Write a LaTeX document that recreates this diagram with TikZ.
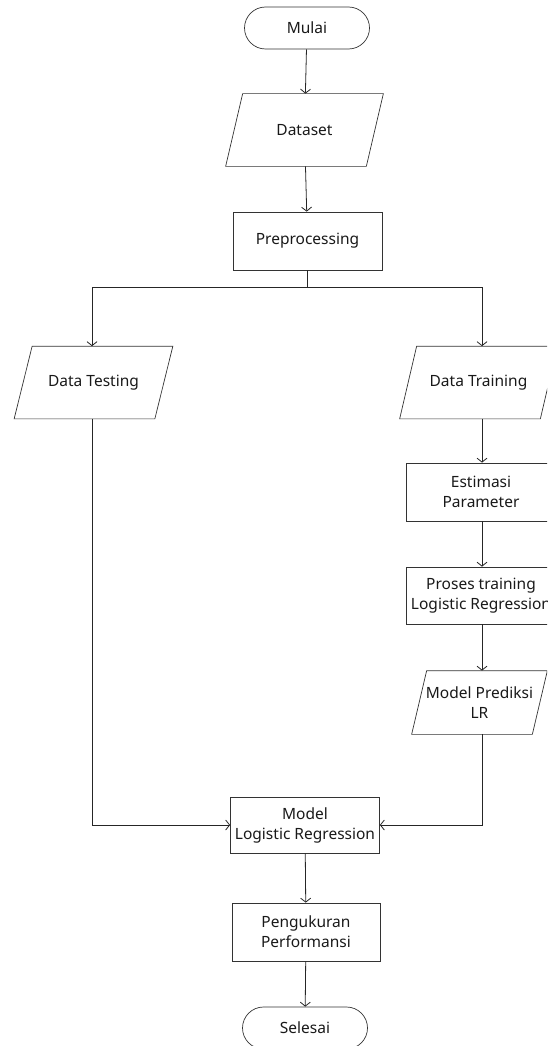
\documentclass[tikz,border=0pt]{standalone}
\usepackage{xcolor}
\usepackage{fontspec}
\setmainfont{Noto Sans}
\usepackage{tikz}
\usetikzlibrary{arrows.meta}

\begin{document}
\begin{tikzpicture}[x=1pt,y=-1pt,
    font=\fontsize{15.5}{20}\selectfont, text=black!90,
    every node/.style={draw=black!80, line width=0.7pt, align=center, inner sep=1pt},
    terminal/.style={rectangle, rounded corners=21pt, minimum width=125pt, minimum height=42pt},
    process/.style={rectangle, minimum width=149pt, minimum height=58pt},
    io/.style={rectangle, draw=none, minimum width=140pt, minimum height=72pt},
    flow/.style={draw=black!85, line width=0.8pt, -{Straight Barb[length=4pt,width=10pt]}}]
    \clip (0,0) rectangle (547,1046);
    \node[terminal] (mulai) at (307,28) {Mulai};
    \node[io] (dataset) at (304.5,130) {Dataset};
    \node[process] (prep) at (307.5,241) {Preprocessing};
    \node[io] (testing) at (93.5,382.5) {Data Testing};
    \node[io] (training) at (478.5,382.5) {Data Training};
    \node[process, minimum width=150pt] (estimasi) at (481,492) {Estimasi\\Parameter};
    \node[process, minimum width=150pt, minimum height=57pt] (proses) at (481,595.5) {Proses training\\Logistic Regression};
    \node[io, minimum width=120pt, minimum height=63pt] (prediksi) at (479.5,702.5) {Model Prediksi\\LR};
    \node[process, minimum height=56pt] (model) at (305,825) {Model\\Logistic Regression};
    \node[process, minimum width=148pt] (ukur) at (306,932) {Pengukuran\\Performansi};
    \node[terminal] (selesai) at (305,1028) {Selesai};
    \coordinate (split) at (307.5,287);

    % parallelogram outlines of the io nodes
    \foreach \n/\s in {dataset/8.5, testing/9, training/8.5, prediksi/7.5}
      \draw[draw=black!80, line width=0.7pt] ([xshift=\s pt]\n.north west) -- ([xshift=\s pt]\n.north east)
        -- ([xshift=-\s pt]\n.south east) -- ([xshift=-\s pt]\n.south west) -- cycle;

    \draw[flow] (mulai) -- (dataset);
    \draw[flow] (dataset) -- (prep);
    \draw[draw=black!85, line width=0.8pt] (prep) -- (split);
    \draw[flow] (split) -| (testing.north -| 92,0);
    \draw[flow] (split) -| (training.north -| 482,0);
    \draw[flow] (training.south -| 482,0) -- (estimasi.north -| 482,0);
    \draw[flow] (estimasi.south -| 482,0) -- (proses.north -| 482,0);
    \draw[flow] (proses.south -| 482,0) -- (prediksi.north -| 482,0);
    \draw[flow] (prediksi.south -| 482,0) |- (model);
    \draw[flow] (testing.south -| 92,0) |- (model);
    \draw[flow] (model) -- (ukur);
    \draw[flow] (ukur) -- (selesai);
  \end{tikzpicture}
\end{document}
